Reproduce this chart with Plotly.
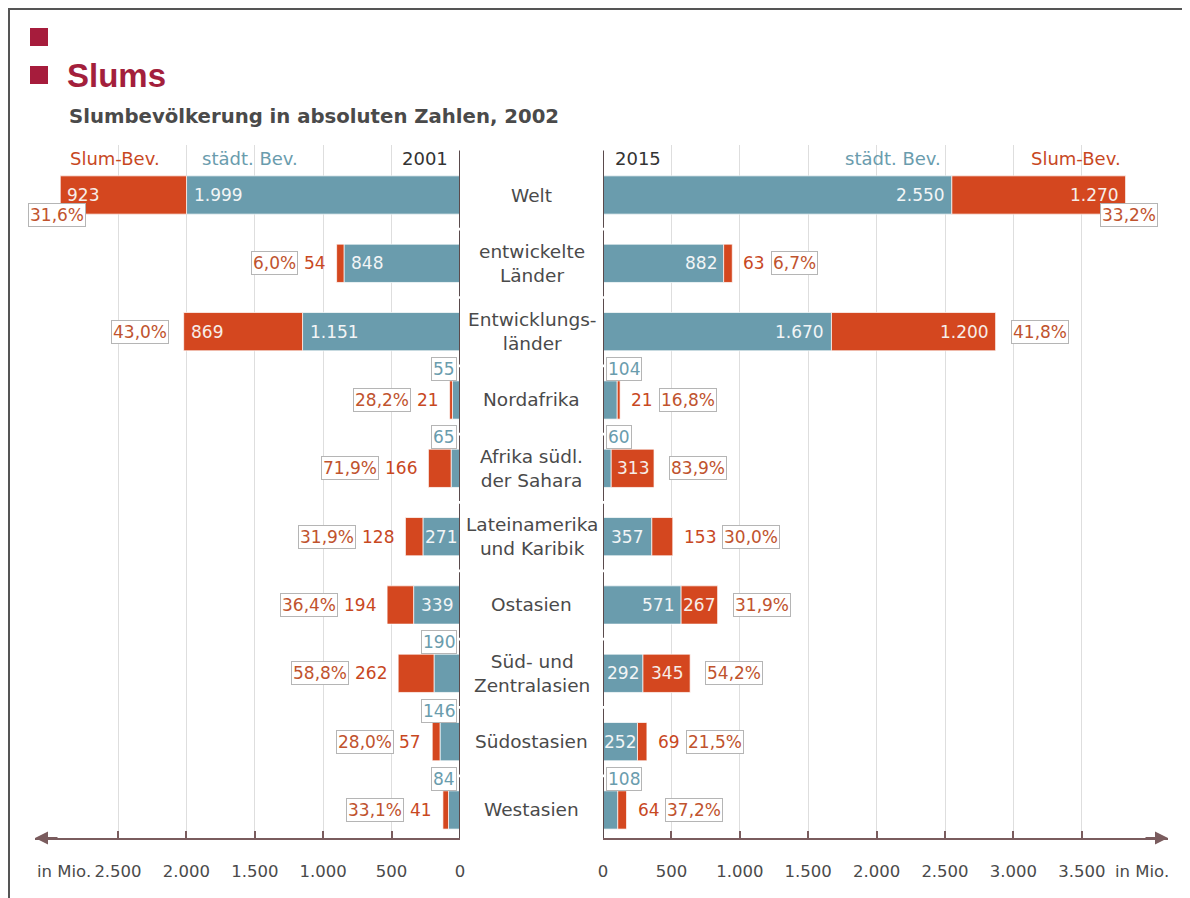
import plotly.graph_objects as go

# ---------------- data ----------------
categories = ["Welt", "entwickelte<br>Länder", "Entwicklungs-<br>länder", "Nordafrika",
              "Afrika südl.<br>der Sahara", "Lateinamerika<br>und Karibik", "Ostasien",
              "Süd- und<br>Zentralasien", "Südostasien", "Westasien"]
urban_2001 = [1999, 848, 1151, 55, 65, 271, 339, 190, 146, 84]
slum_2001 = [923, 54, 869, 21, 166, 128, 194, 262, 57, 41]
share_2001 = [31.6, 6.0, 43.0, 28.2, 71.9, 31.9, 36.4, 58.8, 28.0, 33.1]
urban_2015 = [2550, 882, 1670, 104, 60, 357, 571, 292, 252, 108]
slum_2015 = [1270, 63, 1200, 21, 313, 153, 267, 345, 69, 64]
share_2015 = [33.2, 6.7, 41.8, 16.8, 83.9, 30.0, 31.9, 54.2, 21.5, 37.2]
ticks_left = [0, 500, 1000, 1500, 2000, 2500]
ticks_right = [0, 500, 1000, 1500, 2000, 2500, 3000, 3500]

# ---------------- geometry / style ----------------
OFF = 8                             # page body margin
W, H = 1190 - OFF, 898 - OFF
# screen positions of the plot area
S_LEFT, S_RIGHT, S_TOP, S_BOT = 35, 1168, 145, 838
ML, MR, MT, MB = S_LEFT - OFF, (W + OFF) - S_RIGHT, S_TOP - OFF, (H + OFF) - S_BOT
PW = W - ML - MR
PH = H - MT - MB
ZERO_L, ZERO_R = 460, 603          # screen x of the two zero lines
SCALE = 68.4 / 500                 # px per unit
Y_FIRST, Y_STEP = 195, 68.33       # screen y of first category, spacing

dom_l = [0, (ZERO_L - S_LEFT) / PW]
dom_r = [(ZERO_R - S_LEFT) / PW, 1]
range_l = [(ZERO_L - S_LEFT) / SCALE, 0]
range_r = [0, (S_RIGHT - ZERO_R) / SCALE]
y_top = (S_TOP - Y_FIRST) / Y_STEP
y_bot = (S_BOT - Y_FIRST) / Y_STEP

TEAL = "#6a9cad"
ORANGE = "#d4471f"
ORANGE_TXT = "#c8481f"
PCT_TXT = "#c0532e"
DARK = "#4a4a4a"
AXIS = "#7a5c5e"
FONT = "DejaVu Sans"
FS = 17
FS_CAT = 18.5
FS_HDR = 18
FS_TICK = 16.5
BARW = 0.56


def px(xs):
    return (xs - S_LEFT) / PW


def py(ys):
    return (S_BOT - ys) / PH


def fmt(v):
    return f"{v:,}".replace(",", ".")


def pct(v):
    return f"{v:.1f}".replace(".", ",") + "%"


def textw(s, fs=FS):
    w = 0
    for ch in s:
        w += 0.318 if ch in ".," else 0.636
    return w * fs


fig = go.Figure()
idx = list(range(len(categories)))

for urban, slum, xa in [(urban_2001, slum_2001, "x"), (urban_2015, slum_2015, "x2")]:
    fig.add_trace(go.Bar(x=urban, y=idx, base=[0] * len(idx), orientation="h", width=BARW,
                         marker=dict(color=TEAL, line=dict(color="rgba(255,255,255,0.7)", width=1)),
                         xaxis=xa, yaxis="y", hoverinfo="skip", showlegend=False))
    fig.add_trace(go.Bar(x=slum, y=idx, base=urban, orientation="h", width=BARW,
                         marker=dict(color=ORANGE, line=dict(color="rgba(255,255,255,0.7)", width=1)),
                         xaxis=xa, yaxis="y", hoverinfo="skip", showlegend=False))

ann = []
shapes = []
panel_w = {"x": ZERO_L - S_LEFT, "x2": S_RIGHT - ZERO_R}
WHITE_T = "#f2f5f6"

for urban, slum, share, xa, out in [(urban_2001, slum_2001, share_2001, "x", -1),
                                     (urban_2015, slum_2015, share_2015, "x2", 1)]:
    outer_anchor = "right" if out < 0 else "left"
    inner_anchor = "left" if out < 0 else "right"
    for i in idx:
        u, s, p = urban[i], slum[i], share[i]
        upx, spx = u * SCALE, s * SCALE
        tot = u + s
        # urban (teal) label
        if upx >= 30:
            if upx < 60:
                ann.append(dict(x=u / 2, y=i, xref=xa, yref="y", text=fmt(u), showarrow=False,
                                xanchor="center", font=dict(family=FONT, size=FS, color=WHITE_T)))
            else:
                ann.append(dict(x=u, y=i, xref=xa, yref="y", text=fmt(u), showarrow=False,
                                xanchor=inner_anchor, xshift=-out * 5,
                                font=dict(family=FONT, size=FS, color=WHITE_T)))
        else:
            ann.append(dict(x=0, y=i, xref=xa, yref="y", text=fmt(u), showarrow=False,
                            xanchor=outer_anchor, xshift=out * 3, yshift=31,
                            bgcolor="white", bordercolor="#b5b5b5", borderwidth=1, borderpad=1,
                            font=dict(family=FONT, size=FS, color=TEAL)))
        # slum (orange) label and share box
        box = dict(text=pct(p), showarrow=False, bgcolor="white", bordercolor="#b5b5b5",
                   borderwidth=1, borderpad=1, font=dict(family=FONT, size=FS, color=PCT_TXT),
                   xref=xa, yref="y", y=i)
        if spx >= 36:
            if spx < 60:
                ann.append(dict(x=u + s / 2, y=i, xref=xa, yref="y", text=fmt(s), showarrow=False,
                                xanchor="center", font=dict(family=FONT, size=FS, color="#f7ede8")))
            else:
                ann.append(dict(x=tot, y=i, xref=xa, yref="y", text=fmt(s), showarrow=False,
                                xanchor=inner_anchor, xshift=-out * 5,
                                font=dict(family=FONT, size=FS, color="#f7ede8")))
            if tot * SCALE + 90 > panel_w[xa]:
                box.update(x=tot, xanchor="center", xshift=out * 3, yshift=-20)
            else:
                box.update(x=tot, xanchor=outer_anchor, xshift=out * 15)
        else:
            lab = fmt(s)
            ann.append(dict(x=tot, y=i, xref=xa, yref="y", text=lab, showarrow=False,
                            xanchor=outer_anchor, xshift=out * 9,
                            font=dict(family=FONT, size=FS, color=ORANGE_TXT)))
            box.update(x=tot, xanchor=outer_anchor, xshift=out * (9 + textw(lab) + 8))
        ann.append(box)

    # zero line segments (broken between categories)
    for i in idx:
        y0 = y_top + 0.08 if i == 0 else i - 0.48
        y1 = y_bot if i == idx[-1] else i + 0.48
        shapes.append(dict(type="line", xref=xa, yref="y", x0=0, x1=0, y0=y0, y1=y1,
                           line=dict(color="#5a4a4c", width=2)))

# category names in the middle
xc = (dom_l[1] + dom_r[0]) / 2
for i, c in enumerate(categories):
    ann.append(dict(x=xc, y=i, xref="paper", yref="y", text=c, showarrow=False, xanchor="center",
                    font=dict(family=FONT, size=FS_CAT, color=DARK)))

# column headers
hy = py(158)
hdr = [("Slum-Bev.", 68, "left", ORANGE_TXT), ("städt. Bev.", 200, "left", TEAL),
       ("2001", 450, "right", "#333333"), ("2015", 613, "left", "#333333"),
       ("städt. Bev.", 943, "right", TEAL), ("Slum-Bev.", 1123, "right", ORANGE_TXT)]
for t, xs, anc, col in hdr:
    ann.append(dict(x=px(xs), y=hy, xref="paper", yref="paper", text=t, showarrow=False,
                    xanchor=anc, yanchor="middle", font=dict(family=FONT, size=FS_HDR, color=col)))

# unit labels
for xs, anc in [(35, "left"), (1171, "right")]:
    ann.append(dict(x=px(xs), y=py(871), xref="paper", yref="paper", text="in Mio.", showarrow=False,
                    xanchor=anc, yanchor="middle", font=dict(family=FONT, size=FS_TICK, color=DARK)))

# arrowheads at axis ends
ann.append(dict(x=range_l[0], y=0, xref="x", yref="paper", ax=24, ay=0, axref="pixel", ayref="pixel",
                text="", showarrow=True, arrowhead=2, arrowsize=1.3, arrowwidth=2, arrowcolor=AXIS))
ann.append(dict(x=range_r[1], y=0, xref="x2", yref="paper", ax=-24, ay=0, axref="pixel", ayref="pixel",
                text="", showarrow=True, arrowhead=2, arrowsize=1.3, arrowwidth=2, arrowcolor=AXIS))

# titles
ann.append(dict(x=px(65), y=py(75), xref="paper", yref="paper", text="<b>Slums</b>", showarrow=False,
                xanchor="left", yanchor="middle",
                font=dict(family="Liberation Sans", size=33, color="#a31f3c")))
ann.append(dict(x=px(67), y=py(117), xref="paper", yref="paper",
                text="<b>Slumbevölkerung in absoluten Zahlen, 2002</b>", showarrow=False,
                xanchor="left", yanchor="middle", font=dict(family=FONT, size=19.7, color="#4a4a4a")))

# square bullets
for y0 in (28, 66):
    shapes.append(dict(type="rect", xref="paper", yref="paper", x0=px(30), x1=px(48),
                       y0=py(y0 + 18), y1=py(y0), fillcolor="#a61c3c", line=dict(width=0)))

# frame (top and left)
shapes.append(dict(type="line", xref="paper", yref="paper", x0=px(8), x1=px(1190), y0=py(9), y1=py(9),
                   line=dict(color="#555555", width=2)))
shapes.append(dict(type="line", xref="paper", yref="paper", x0=px(9), x1=px(9), y0=py(9), y1=py(898),
                   line=dict(color="#555555", width=2)))

axis_common = dict(showline=True, linecolor=AXIS, linewidth=2, ticks="inside", ticklen=7,
                   tickcolor=AXIS, tickwidth=2, showgrid=True, gridcolor="#dedede", gridwidth=1,
                   zeroline=False, tickfont=dict(family=FONT, size=FS_TICK, color=DARK),
                   ticklabelstandoff=17, fixedrange=True, anchor="y")

fig.update_layout(
    width=W, height=H, margin=dict(l=ML, r=MR, t=MT, b=MB),
    paper_bgcolor="white", plot_bgcolor="white", barmode="overlay", showlegend=False,
    xaxis=dict(domain=dom_l, range=range_l, tickvals=ticks_left,
               ticktext=[fmt(v) for v in ticks_left], **axis_common),
    xaxis2=dict(domain=dom_r, range=range_r, tickvals=ticks_right,
                ticktext=[fmt(v) for v in ticks_right], **axis_common),
    yaxis=dict(range=[y_bot, y_top], showticklabels=False, showgrid=False, zeroline=False,
               showline=False, ticks="", fixedrange=True),
    annotations=ann, shapes=shapes,
)

fig.write_html("out.html")
